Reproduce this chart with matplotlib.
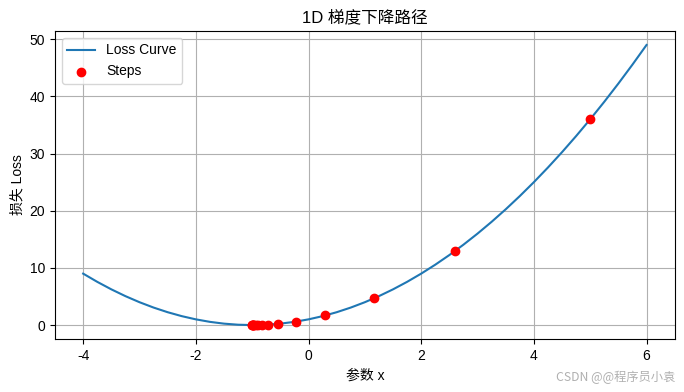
import matplotlib
matplotlib.use("Agg")
import matplotlib.pyplot as plt

plt.rcParams['font.family'] = ['Liberation Sans', 'Noto Sans CJK SC', 'DejaVu Sans']
plt.rcParams['axes.unicode_minus'] = False

curve_x = [-4, -3.75, -3.5, -3.25, -3, -2.75, -2.5, -2.25, -2, -1.75, -1.5, -1.25, -1,
           -0.75, -0.5, -0.25, 0, 0.25, 0.5, 0.75, 1, 1.25, 1.5, 1.75, 2, 2.25, 2.5,
           2.75, 3, 3.25, 3.5, 3.75, 4, 4.25, 4.5, 4.75, 5, 5.25, 5.5, 5.75, 6]
curve_loss = [9, 7.5625, 6.25, 5.0625, 4, 3.0625, 2.25, 1.5625, 1, 0.5625, 0.25, 0.0625, 0,
              0.0625, 0.25, 0.5625, 1, 1.5625, 2.25, 3.0625, 4, 5.0625, 6.25, 7.5625, 9,
              10.5625, 12.25, 14.0625, 16, 18.0625, 20.25, 22.5625, 25, 27.5625, 30.25,
              33.0625, 36, 39.0625, 42.25, 45.5625, 49]

step_x = [5, 2.6, 1.16, 0.296, -0.222, -0.533, -0.720, -0.832, -0.899, -0.940,
          -0.964, -0.978, -0.987, -0.992, -0.995, -0.997]
step_loss = [36, 12.96, 4.666, 1.680, 0.605, 0.218, 0.078, 0.028, 0.010, 0.004,
             0.001, 0.0005, 0.0002, 0.0001, 0.0, 0.0]

fig = plt.figure(figsize=(6.84, 3.92), dpi=100)
ax = fig.add_axes([0.0804, 0.135, 0.906, 0.786])
ax.plot(curve_x, curve_loss, color='#1f77b4', label='Loss Curve', zorder=2)
ax.scatter(step_x, step_loss, color='red', label='Steps', zorder=3)
ax.set_title('1D 梯度下降路径')
ax.set_xlabel('参数 x')
ax.set_ylabel('损失 Loss')
ax.set_xlim(-4.5, 6.5)
ax.set_ylim(-2.45, 51.45)
ax.grid(True)
ax.legend(loc='upper left')
fig.text(0.988, 0.02, 'CSDN @@程序员小袁', ha='right', va='bottom', color='#b0b0b0', fontsize=8.8,
         family=['Noto Sans CJK SC', 'DejaVu Sans'])
fig.savefig('out.png', dpi=100)
